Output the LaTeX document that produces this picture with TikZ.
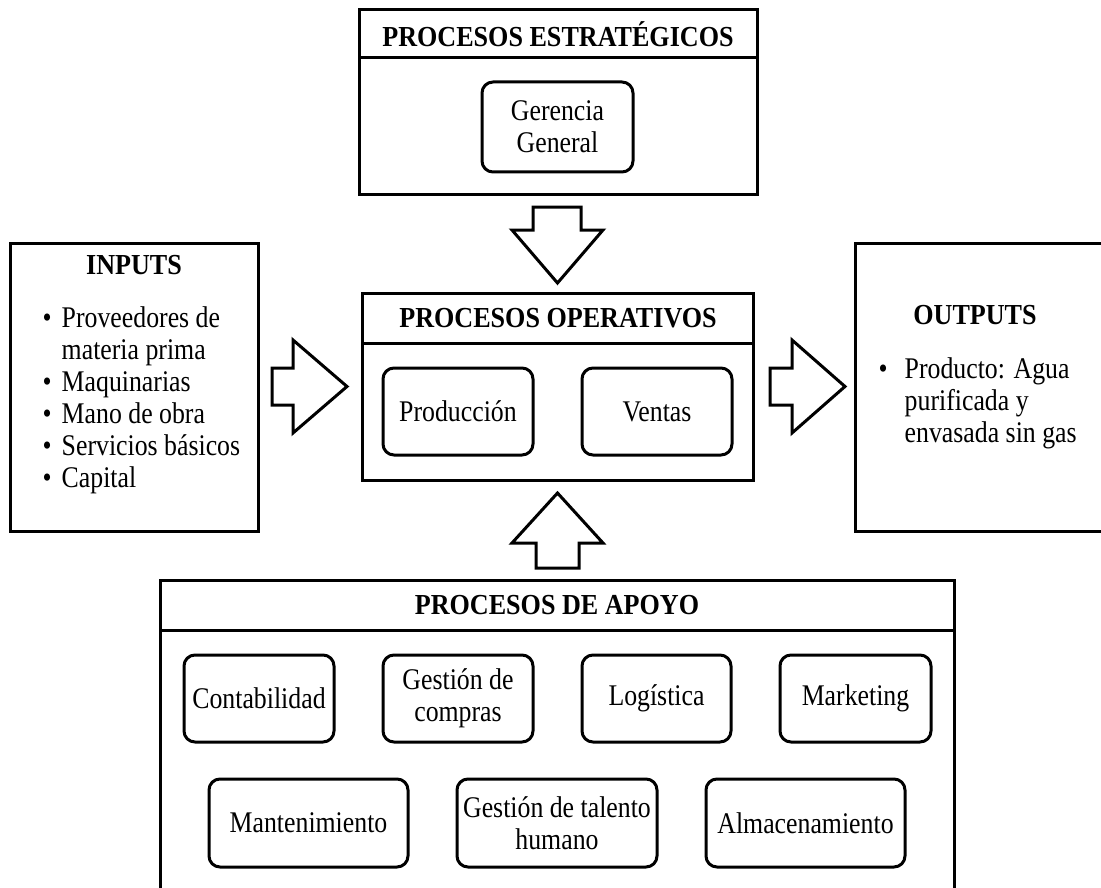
\documentclass[tikz,border=0pt]{standalone}
\usepackage{fontspec}
\setmainfont{Liberation Serif}[FakeStretch=0.86, BoldFeatures={FakeStretch=0.9}]
\begin{document}
\begin{tikzpicture}[x=1pt,y=-1pt,
  frame/.style={draw, line width=3pt, rectangle, inner sep=0pt, outer sep=0pt},
  proc/.style={draw, line width=3pt, rectangle, rounded corners=11pt, inner sep=0pt,
    outer sep=0pt, align=center, font=\fontsize{30}{32}\selectfont},
  head/.style={inner sep=0pt, font=\bfseries\fontsize{29}{32}\selectfont},
  listtext/.style={inner sep=0pt, anchor=west, font=\fontsize{30}{32}\selectfont},
  blockarrow/.style={draw, line width=3pt, fill=white, line join=miter}]
\useasboundingbox (0,0) rectangle (1101,888);
\clip (0,0) rectangle (1101,888);

% strategic processes
\node[frame, minimum width=398pt, minimum height=185pt] (est) at (558,102.5) {};
\draw[line width=3pt] (est.west |- 0,58) -- (est.east |- 0,58);
\node[head] (esttitle) at (558,34) {PROCESOS ESTRATÉGICOS};
\node[proc, minimum width=151pt, minimum height=90pt] (ger) at (557.5,127) {Gerencia\\General};

% operative processes
\node[frame, minimum width=391pt, minimum height=187pt] (op) at (557.5,386.5) {};
\draw[line width=3pt] (op.west |- 0,343) -- (op.east |- 0,343);
\node[head] (optitle) at (558,318) {PROCESOS OPERATIVOS};
\node[proc, minimum width=150pt, minimum height=87pt] (prod) at (458,411.5) {Producción};
\node[proc, minimum width=150pt, minimum height=87pt] (vent) at (657,411.5) {Ventas};

% inputs
\node[frame, minimum width=248pt, minimum height=288pt] (inp) at (134,387) {};
\node[head] (inptitle) at (134,265) {INPUTS};
\node[listtext] (inplist) at (42.5,401) {%
  \begin{tabular}{@{}l@{\hspace{10pt}}l@{}}
  \textbullet & Proveedores de\\
              & materia prima\\
  \textbullet & Maquinarias\\
  \textbullet & Mano de obra\\
  \textbullet & Servicios básicos\\
  \textbullet & Capital
  \end{tabular}};

% outputs
\node[frame, minimum width=260pt, minimum height=288pt] (outp) at (985,387) {};
\node[head] (outtitle) at (975,315) {OUTPUTS};
\node[listtext] (outlist) at (878.5,404) {%
  \begin{tabular}{@{}l@{\hspace{17pt}}l@{}}
  \textbullet & Producto: Agua\\
              & purificada y\\
              & envasada sin gas
  \end{tabular}};

% support processes
\node[frame, minimum width=794pt, minimum height=320pt] (apo) at (557,740) {};
\draw[line width=3pt] (apo.west |- 0,630) -- (apo.east |- 0,630);
\node[head] (apotitle) at (557,605) {PROCESOS DE APOYO};
\node[proc, minimum width=150pt, minimum height=87pt] (cont) at (259,698.5) {Contabilidad};
\node[proc, minimum width=150pt, minimum height=87pt] (comp) at (458,698.5) {Gestión de\\compras};
\node[proc, minimum width=149pt, minimum height=87pt] (logi) at (656.5,698.5) {Logística};
\node[proc, minimum width=151pt, minimum height=87pt] (mark) at (855.5,698.5) {Marketing};
\node[proc, minimum width=199pt, minimum height=88pt] (mant) at (308.5,823) {Mantenimiento};
\node[proc, minimum width=200pt, minimum height=88pt] (tal) at (557,823) {Gestión de talento\\humano};
\node[proc, minimum width=199pt, minimum height=88pt] (alm) at (805.5,823) {Almacenamiento};

% block arrows
\draw[blockarrow] (533,207) -- (581,207) -- (581,230) -- (603,230) -- (557.5,283)
  -- (512,230) -- (533,230) -- cycle;
\draw[blockarrow] (536,568) -- (579,568) -- (579,543) -- (603,543) -- (557.5,493)
  -- (512,543) -- (536,543) -- cycle;
\draw[blockarrow] (272,368) -- (293,368) -- (293,340) -- (347,386.5) -- (293,433)
  -- (293,405) -- (272,405) -- cycle;
\draw[blockarrow] (770,368) -- (792,368) -- (792,340) -- (845,386.5) -- (792,433)
  -- (792,405) -- (770,405) -- cycle;
\end{tikzpicture}
\end{document}
